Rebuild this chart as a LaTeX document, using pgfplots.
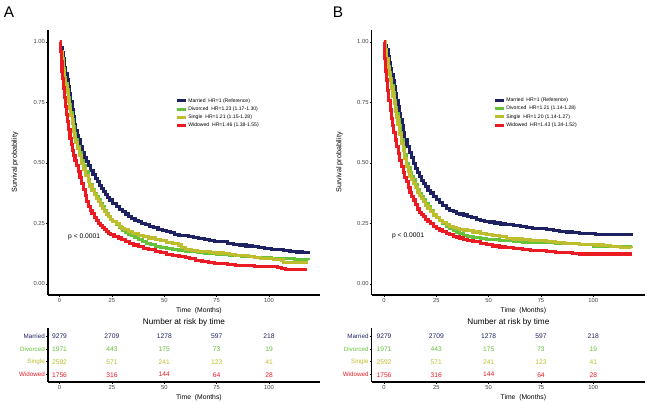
\documentclass[border=0pt]{standalone}
\usepackage{fontspec}
\setmainfont{Liberation Sans}
\usepackage{pgfplots}
\usepackage{pgfplotstable}
\pgfplotsset{compat=1.18}
\definecolor{cmar}{HTML}{1E2262}
\definecolor{cdiv}{HTML}{66C23A}
\definecolor{csin}{HTML}{BDBD2E}
\definecolor{cwid}{HTML}{EA1B23}
\pgfplotsset{
  kmbase/.style={scale only axis, anchor=south west,
    axis x line*=bottom, axis y line*=left,
    axis line style={line width=1.3pt,-},
    tick align=outside, major tick length=2pt,
    tick style={black,line width=0.6pt},
    xtick={0,25,50,75,100},
    ticklabel style={font=\fontsize{5.8}{6}\selectfont,text=black!75,inner sep=1pt},
    /pgf/number format/assume math mode=true,
    every axis x label/.style={at={(axis description cs:0.555,0)},anchor=north,yshift=-12pt,inner sep=0pt,font=\fontsize{6.8}{7}\selectfont},
    every axis title/.style={at={(axis description cs:0.5,1)}, anchor=base, yshift=3.4pt, inner sep=0pt, font=\fontsize{8.2}{9}\selectfont},
  },
  km/.style={const plot, line width=3.1pt, #1},
  risk/.style={draw=none, mark=none, nodes near coords, point meta=explicit symbolic,
    every node near coord/.style={anchor=center, text=#1, font=\fontsize{6.7}{7}\selectfont}},
  leg/.style={legend style={at={(axis description cs:#1)}, anchor=north west, draw=none, fill=none, inner sep=0pt,
      font=\fontsize{5.1}{5.5}\selectfont, row sep=2.4pt,
      nodes={inner sep=0.6pt, text height=3.7pt, text depth=1pt}, cells={anchor=west}},
    legend image code/.code={\draw[line width=3pt,##1] (0pt,0pt) -- (9.5pt,0pt);}},
}
\pgfplotstableread{
t S
0 1.0
0.6 0.975
1.2 0.955
1.8 0.93
2.4 0.895
3 0.87
3.6 0.845
4.2 0.815
4.8 0.785
5.4 0.755
6 0.72
6.6 0.691
7.2 0.66
7.8 0.635
8.4 0.612
9 0.595
10 0.568
11 0.545
12 0.522
13 0.505
14 0.488
15 0.47
16 0.452
17 0.436
18 0.422
19 0.408
20 0.394
21 0.381
22 0.37
23 0.358
24 0.347
25.5 0.333
27 0.32
28.5 0.308
30 0.298
31.5 0.289
33 0.28
34.5 0.272
36 0.264
37.5 0.257
39 0.25
41 0.244
43 0.238
45 0.232
47 0.226
49 0.221
51 0.216
53 0.211
55 0.206
57 0.202
59 0.199
61.5 0.196
64 0.192
66.5 0.188
69 0.184
71.5 0.18
74 0.177
77 0.174
80 0.169
83 0.165
86 0.161
89 0.157
92 0.154
95 0.15
98 0.147
101 0.144
104 0.141
107 0.138
110 0.135
113 0.132
116 0.129
118.7 0.127
}\AMar
\pgfplotstableread{
t S
0 1.0
0.6 0.96
1.2 0.93
1.8 0.89
2.4 0.855
3 0.83
3.6 0.805
4.2 0.77
4.8 0.74
5.4 0.71
6 0.68
6.6 0.65
7.2 0.62
7.8 0.595
8.6 0.57
9.5 0.545
10.6 0.512
11.5 0.49
12.5 0.465
13.7 0.43
14.5 0.41
15.5 0.39
16.5 0.375
17.5 0.36
18.5 0.347
19.5 0.333
20.5 0.318
21.5 0.304
22.5 0.29
23.3 0.278
24.5 0.266
25.5 0.257
27 0.246
28.5 0.234
30 0.223
31.5 0.214
33 0.206
34.5 0.2
36 0.193
37.6 0.182
39.5 0.176
41.5 0.168
43.5 0.162
45.6 0.154
48 0.15
51 0.146
54 0.142
57 0.139
60 0.136
63 0.133
66 0.13
69 0.127
72 0.125
75 0.122
78 0.12
81 0.118
84 0.116
87 0.114
90 0.112
93 0.11
97 0.108
101 0.106
106 0.104
112 0.103
118.7 0.102
}\ADiv
\pgfplotstableread{
t S
0 1.0
0.6 0.96
1.2 0.925
1.8 0.88
2.4 0.845
3 0.82
3.6 0.79
4.2 0.755
4.8 0.725
5.4 0.695
6 0.665
6.6 0.63
7.2 0.605
7.8 0.585
8.6 0.56
9.5 0.53
10.6 0.499
11.5 0.475
12.5 0.45
13.7 0.423
14.5 0.405
15.5 0.385
16.5 0.37
17.5 0.355
18.5 0.34
19.5 0.326
20.5 0.313
21.5 0.3
22.5 0.288
23.3 0.278
24.5 0.268
25.5 0.26
27 0.25
28.5 0.238
29.7 0.23
31 0.224
33 0.217
35 0.21
37.6 0.202
40 0.196
42.5 0.19
45.6 0.182
48 0.178
51 0.172
54 0.166
56.7 0.161
58 0.15
60 0.143
63 0.139
66 0.136
69 0.133
72 0.13
75 0.128
78 0.126
81 0.122
84 0.119
87 0.116
90 0.113
93 0.11
96 0.107
99 0.104
102 0.101
106 0.099
107 0.09
118.7 0.09
}\ASin
\pgfplotstableread{
t S
0 1.0
0.4 0.96
0.8 0.92
1.2 0.88
1.6 0.85
2 0.81
2.5 0.77
3 0.735
3.5 0.7
4 0.67
4.5 0.64
5 0.6
5.6 0.575
6.2 0.553
6.8 0.532
7.4 0.512
8.2 0.49
9 0.465
9.8 0.44
10.6 0.416
11.4 0.39
12.2 0.365
13 0.34
13.7 0.319
14.6 0.303
15.5 0.29
16.5 0.276
17.5 0.263
18.5 0.251
19.5 0.241
20.5 0.232
21.5 0.224
22.5 0.216
23.3 0.209
24.5 0.204
26 0.198
28 0.19
29.7 0.182
31.5 0.175
33.5 0.168
35.5 0.161
37.6 0.154
40 0.148
42.5 0.142
45.6 0.134
48 0.129
51 0.123
54 0.117
57 0.112
60 0.108
62 0.104
65 0.098
68 0.092
71 0.088
74 0.085
77.4 0.083
80 0.08
84 0.078
88 0.076
93 0.074
97 0.074
101 0.072
104 0.067
106 0.063
108 0.058
117.9 0.058
}\AWid
\pgfplotstableread{
t S
0 1.0
0.6 0.985
1.3 0.967
1.9 0.94
2.5 0.915
3.1 0.89
3.7 0.865
4.3 0.84
4.9 0.815
5.5 0.785
6.1 0.76
6.7 0.735
7.3 0.705
7.9 0.68
8.6 0.655
9.3 0.625
10 0.595
11 0.57
12 0.545
13 0.522
14 0.499
15 0.478
16 0.46
17 0.445
18 0.429
18.8 0.416
20 0.401
21 0.388
22 0.376
23.6 0.361
25 0.35
26.5 0.338
28 0.326
29.9 0.313
31.5 0.305
33 0.298
34.5 0.293
36 0.289
37.9 0.285
40 0.278
42 0.273
44 0.268
45.9 0.264
48 0.26
50.5 0.256
53 0.252
55.5 0.248
58 0.244
61.8 0.24
65 0.237
68 0.233
71 0.23
74 0.228
77.7 0.226
81 0.222
84 0.218
87 0.215
90 0.212
93.6 0.209
97 0.207
101 0.206
105 0.205
109.6 0.205
114 0.203
118.3 0.2
}\BMar
\pgfplotstableread{
t S
0 1.0
0.6 0.97
1.3 0.93
1.9 0.9
2.5 0.875
3.1 0.85
3.7 0.82
4.3 0.79
4.9 0.76
5.5 0.73
6.1 0.705
6.7 0.68
7.3 0.655
7.9 0.625
8.4 0.595
9.3 0.565
10 0.535
10.8 0.499
11.6 0.48
12.4 0.46
13.2 0.445
14 0.43
15 0.41
16 0.39
17 0.375
18 0.36
18.8 0.347
20 0.334
21 0.318
22 0.305
23.6 0.285
25 0.274
26.5 0.262
28 0.25
29.9 0.237
31.5 0.228
33 0.22
34.5 0.213
36 0.207
37.9 0.202
40 0.197
42.5 0.193
45.9 0.189
49 0.185
52 0.182
55 0.18
58 0.178
61.8 0.175
66 0.173
70 0.172
74 0.172
77.7 0.171
82 0.169
86 0.167
90 0.166
93.6 0.165
97 0.162
99.9 0.154
118.3 0.154
}\BDiv
\pgfplotstableread{
t S
0 1.0
0.6 0.97
1.3 0.93
1.9 0.895
2.5 0.865
3.1 0.84
3.7 0.81
4.3 0.775
4.9 0.745
5.5 0.715
6.1 0.69
6.7 0.66
7.6 0.62
8.4 0.58
9.3 0.55
10 0.52
10.8 0.485
11.6 0.465
12.4 0.445
13.2 0.43
14 0.416
15 0.397
16 0.38
17 0.365
18 0.352
18.8 0.34
20 0.325
21 0.312
22 0.3
23.6 0.285
25 0.275
26.5 0.264
28 0.254
29.9 0.244
31.5 0.238
33 0.233
34.5 0.229
36 0.226
37.9 0.223
40 0.22
42.5 0.215
45.9 0.209
49 0.204
52 0.2
55 0.196
58.6 0.189
62 0.186
66 0.183
70 0.18
74 0.178
77.7 0.175
82 0.171
86 0.169
90 0.167
93.6 0.165
97 0.163
101 0.161
105 0.158
108 0.154
113 0.152
118.3 0.151
}\BSin
\pgfplotstableread{
t S
0 1.0
0.4 0.93
0.8 0.88
1.3 0.843
1.8 0.8
2.3 0.76
2.9 0.719
3.5 0.685
4.1 0.655
4.7 0.625
5.3 0.595
6 0.57
6.8 0.54
7.6 0.512
8.4 0.485
9.2 0.46
10 0.44
10.8 0.423
11.6 0.4
12.4 0.378
13.2 0.36
14 0.347
15 0.328
16 0.31
17 0.297
18 0.287
18.8 0.278
20 0.267
21 0.258
22 0.25
23.6 0.237
25 0.23
26.5 0.223
28 0.216
29.9 0.209
31.5 0.203
33 0.198
34.5 0.194
36 0.19
37.9 0.185
40 0.181
42.5 0.176
45.9 0.168
49 0.162
52 0.157
55 0.153
58 0.15
61.8 0.147
66 0.143
70 0.14
74 0.137
77.7 0.134
82 0.131
86 0.129
90 0.126
93.6 0.124
100 0.124
110 0.124
118.3 0.124
}\BWid
\begin{document}
\begin{tikzpicture}
\path[use as bounding box] (0pt,0pt) rectangle (650pt,403pt);
\node[font=\fontsize{15.4}{16}\selectfont, inner sep=0pt] at (9pt,390.5pt) {A};
\node[font=\fontsize{15.4}{16}\selectfont, inner sep=0pt] at (338pt,390.5pt) {B};
% ---------- Panel A main
\begin{axis}[kmbase, at={(48pt,108pt)}, width=272pt, height=265pt,
  xmin=-5.49, xmax=124.3, ymin=-0.0455, ymax=1.0496,
  ytick={0,0.25,0.5,0.75,1},
  yticklabel style={/pgf/number format/.cd, fixed, fixed zerofill, precision=2},
  xlabel={Time\ \ (Months)},
  ylabel={Survival probability},
  every axis y label/.style={at={(axis description cs:-0.121,0.5)},rotate=90,anchor=center,font=\fontsize{7.2}{8}\selectfont},
  leg={0.467,0.745}]
\addplot[km=cmar] table {\AMar};
\addplot[km=cdiv] table {\ADiv};
\addplot[km=csin] table {\ASin};
\addplot[km=cwid] table {\AWid};
\legend{Married\ \ HR=1 (Reference), Divorced\ \ HR=1.23 (1.17-1.30), Single\ \ HR=1.21 (1.15-1.28), Widowed\ \ HR=1.46 (1.38-1.55)}
\node[anchor=west, inner sep=0pt, font=\fontsize{6.7}{7}\selectfont] at (axis cs:4.06,0.195) {p < 0.0001};
\end{axis}
% ---------- Panel A risk table
\begin{axis}[kmbase, at={(48pt,21pt)}, width=272pt, height=54pt,
  xmin=-5.49, xmax=124.3, ymin=0.434, ymax=4.62,
  ytick={1,2,3,4},
  yticklabels={\textcolor{cwid}{Widowed},\textcolor{csin}{Single},\textcolor{cdiv}{Divorced},\textcolor{cmar}{Married}},
  yticklabel style={font=\fontsize{6.25}{7}\selectfont},
  xlabel={Time\ \ (Months)},
  title={Number at risk by time}]
\addplot[risk=cmar] coordinates {(0,4) [9279] (25,4) [2709] (50,4) [1278] (75,4) [597] (100,4) [218]};
\addplot[risk=cdiv] coordinates {(0,3) [1971] (25,3) [443] (50,3) [175] (75,3) [73] (100,3) [19]};
\addplot[risk=csin] coordinates {(0,2) [2592] (25,2) [571] (50,2) [241] (75,2) [123] (100,2) [41]};
\addplot[risk=cwid] coordinates {(0,1) [1756] (25,1) [316] (50,1) [144] (75,1) [64] (100,1) [28]};
\end{axis}
% ---------- Panel B main
\begin{axis}[kmbase, at={(371.7pt,108pt)}, width=273.3pt, height=265pt,
  xmin=-5.88, xmax=124.7, ymin=-0.0455, ymax=1.0496,
  ytick={0,0.25,0.5,0.75,1},
  yticklabel style={/pgf/number format/.cd, fixed, fixed zerofill, precision=2},
  xlabel={Time\ \ (Months)},
  ylabel={Survival probability},
  every axis y label/.style={at={(axis description cs:-0.118,0.5)},rotate=90,anchor=center,font=\fontsize{7.2}{8}\selectfont},
  leg={0.444,0.747}]
\addplot[km=cmar] table {\BMar};
\addplot[km=cdiv] table {\BDiv};
\addplot[km=csin] table {\BSin};
\addplot[km=cwid] table {\BWid};
\legend{Married\ \ HR=1 (Reference), Divorced\ \ HR=1.21 (1.14-1.28), Single\ \ HR=1.20 (1.14-1.27), Widowed\ \ HR=1.43 (1.34-1.52)}
\node[anchor=west, inner sep=0pt, font=\fontsize{6.7}{7}\selectfont] at (axis cs:3.8,0.2) {p < 0.0001};
\end{axis}
% ---------- Panel B risk table
\begin{axis}[kmbase, at={(371.7pt,21pt)}, width=273.3pt, height=54pt,
  xmin=-5.88, xmax=124.7, ymin=0.434, ymax=4.62,
  ytick={1,2,3,4},
  yticklabels={\textcolor{cwid}{Widowed},\textcolor{csin}{Single},\textcolor{cdiv}{Divorced},\textcolor{cmar}{Married}},
  yticklabel style={font=\fontsize{6.25}{7}\selectfont},
  xlabel={Time\ \ (Months)},
  title={Number at risk by time}]
\addplot[risk=cmar] coordinates {(0,4) [9279] (25,4) [2709] (50,4) [1278] (75,4) [597] (100,4) [218]};
\addplot[risk=cdiv] coordinates {(0,3) [1971] (25,3) [443] (50,3) [175] (75,3) [73] (100,3) [19]};
\addplot[risk=csin] coordinates {(0,2) [2592] (25,2) [571] (50,2) [241] (75,2) [123] (100,2) [41]};
\addplot[risk=cwid] coordinates {(0,1) [1756] (25,1) [316] (50,1) [144] (75,1) [64] (100,1) [28]};
\end{axis}
\end{tikzpicture}
\end{document}
